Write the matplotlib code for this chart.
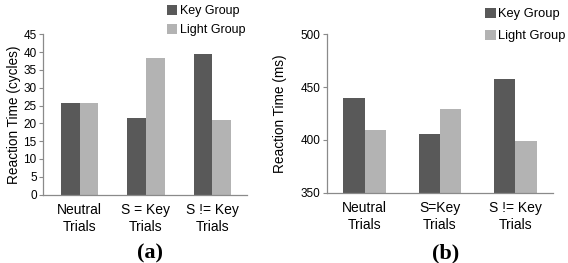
import matplotlib
matplotlib.use('Agg')
import matplotlib.pyplot as plt
import numpy as np

plt.rcParams['font.family'] = ['Liberation Sans', 'DejaVu Sans']

# panel (a) - cycles
cats_a = ['Neutral\nTrials', 'S = Key\nTrials', 'S != Key\nTrials']
key_a = [25.7, 21.5, 39.5]
light_a = [25.7, 38.3, 21.0]

# panel (b) - ms
cats_b = ['Neutral\nTrials', 'S=Key\nTrials', 'S != Key\nTrials']
key_b = [440, 406, 458]
light_b = [409, 429, 399]

dark = '#595959'
light = '#b3b3b3'
grey = '#8a8a8a'

fig = plt.figure(figsize=(5.68, 2.63), dpi=100)
ax1 = fig.add_axes([43/568, 68.5/263, 204/568, 160.2/263])
ax2 = fig.add_axes([327/568, 70.3/263, 226/568, 158.4/263])

w = 0.285


def style(ax, cats, ylim, yticks, xlim):
    x = np.arange(len(cats))
    ax.set_xlim(*xlim)
    ax.set_ylim(*ylim)
    ax.set_yticks(yticks)
    ax.set_xticks(x)
    ax.set_xticklabels(cats, fontsize=10, linespacing=1.25)
    ax.tick_params(axis='x', length=0, pad=6)
    ax.tick_params(axis='y', length=3, width=0.8, color=grey, labelsize=8.5, pad=1.5)
    for s in ['top', 'right']:
        ax.spines[s].set_visible(False)
    for s in ['left', 'bottom']:
        ax.spines[s].set_color(grey)
        ax.spines[s].set_linewidth(0.9)


x = np.arange(3)
ax1.bar(x - w/2, key_a, w, color=dark, label='Key Group')
ax1.bar(x + w/2, light_a, w, color=light, label='Light Group')
style(ax1, cats_a, (0, 45), range(0, 50, 5), (-0.55, 2.52))
ax1.set_ylabel('Reaction Time (cycles)', fontsize=9.8, labelpad=2)
ax1.legend(loc='upper left', bbox_to_anchor=(166/568, 0.985), bbox_transform=fig.transFigure,
           frameon=False, fontsize=9, handlelength=0.8, handleheight=0.8,
           handletextpad=0.2, labelspacing=0.55, borderpad=0.1, borderaxespad=0)

ax2.bar(x - w/2, key_b, w, color=dark, label='Key Group')
ax2.bar(x + w/2, light_b, w, color=light, label='Light Group')
style(ax2, cats_b, (350, 500), [350, 400, 450, 500], (-0.5, 2.5))
ax2.set_ylabel('Reaction Time (ms)', fontsize=9.8, labelpad=10)
ax2.legend(loc='upper left', bbox_to_anchor=(484/568, 0.975), bbox_transform=fig.transFigure,
           frameon=False, fontsize=9.3, handlelength=0.8, handleheight=0.8,
           handletextpad=0.2, labelspacing=0.75, borderpad=0.1, borderaxespad=0)

fig.text(150/568, 1 - 253/263, '(a)', ha='center', va='center', fontsize=16,
         fontweight='bold', family='Liberation Serif')
fig.text(446/568, 1 - 253/263, '(b)', ha='center', va='center', fontsize=16,
         fontweight='bold', family='Liberation Serif')

fig.savefig('out.png', dpi=100)
